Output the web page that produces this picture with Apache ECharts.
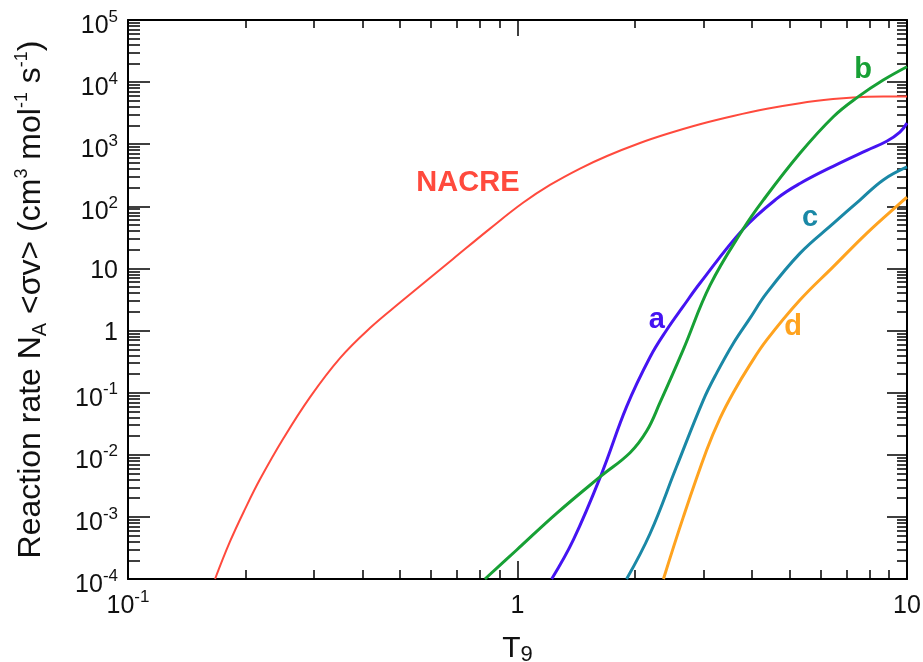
<!DOCTYPE html>
<html>
<head>
<meta charset="utf-8">
<script src="https://cdn.jsdelivr.net/npm/echarts@6/dist/echarts.min.js"></script>
<style>
html,body{margin:0;padding:0;background:#fff;}
#chart{width:923px;height:662px;}
</style>
</head>
<body>
<div id="chart"></div>
<script>
// ---- data (T9 in GK, rate in cm^3 mol^-1 s^-1) ----
var nacreT = [0.1673, 0.1828, 0.2, 0.2182, 0.2505, 0.2934, 0.3502, 0.418, 0.4994, 0.683, 0.85, 1.033, 1.212, 1.447, 1.698, 2.063, 2.415, 2.94, 3.58, 4.37, 5.31, 6.46, 7.27, 8.69, 10];
var nacreRate = [1e-4, 4.02e-4, 1.36e-3, 4.03e-3, 0.0183, 0.0849, 0.36, 1.096, 2.82, 14.2, 43.8, 114, 221, 406, 647, 1047, 1460, 2100, 2850, 3720, 4580, 5330, 5650, 5850, 5880];

var aT = [1.224, 1.392, 1.645, 1.906, 2.19, 2.415, 2.66, 2.94, 3.8, 4.64, 5.31, 6.46, 7.89, 8.87, 9.59, 10];
var aRate = [1e-4, 4.3e-4, 5.0e-3, 0.0596, 0.375, 1.02, 2.42, 5.77, 43.2, 134, 233, 441, 798, 1115, 1563, 2188];

var bT = [0.825, 0.995, 1.26, 1.628, 1.945, 2.146, 2.32, 2.666, 3.12, 3.8, 4.28, 5.31, 6.47, 7.5, 8.69, 10];
var bRate = [1e-4, 2.93e-4, 1.14e-3, 4.4e-3, 0.0108, 0.0241, 0.0683, 0.498, 5.33, 43.5, 127, 714, 2770, 5830, 10800, 17700];

var cT = [1.906, 2.19, 2.56, 3.0, 3.25, 3.58, 3.95, 4.36, 5.31, 6.47, 7.57, 8.69, 10];
var cRate = [1e-4, 5.4e-4, 6.4e-3, 0.076, 0.21, 0.62, 1.57, 4.0, 17.5, 53, 126, 266, 430];

var dT = [2.37, 2.666, 3.06, 3.31, 3.58, 3.95, 4.36, 5.31, 6.47, 7.88, 9.59, 10];
var dRate = [1e-4, 1.0e-3, 0.0119, 0.0386, 0.10, 0.28, 0.70, 3.1, 10.7, 36.8, 112, 140];

// curve labels: [T9, rate]
var labelNACRE = [0.746, 238];
var labelA = [2.28, 1.48];
var labelB = [7.71, 15700];
var labelC = [5.64, 65];
var labelD = [5.1, 1.14];

// tick values
var xMajorTicks = [0.1, 1, 10];
var xMinorTicks = [0.2, 0.3, 0.4, 0.5, 0.6, 0.7, 0.8, 0.9, 2, 3, 4, 5, 6, 7, 8, 9];
var yMajorTicks = [1e-4, 1e-3, 1e-2, 1e-1, 1, 10, 1e2, 1e3, 1e4, 1e5];
var yMinorTicks = [];
for (var e = -4; e < 5; e++) {
  for (var m = 2; m <= 9; m++) yMinorTicks.push(m * Math.pow(10, e));
}

function zip(xs, ys) { return xs.map(function (x, i) { return [x, ys[i]]; }); }

var FONT = '"Liberation Sans", Arial, Helvetica, sans-serif';
var AX = '#000';
var TXT = '#111';

function yLabel(v) {
  var ex = Math.round(Math.log10(v));
  if (ex === 0) return '{p|1}';
  if (ex === 1) return '{p|10}';
  return '{e|10}{s|' + ex + '}';
}
function xLabel(v) {
  var ex = Math.round(Math.log10(v));
  if (ex === 0) return '{e|1}';
  if (ex === 1) return '{e|10}';
  return '{e|10}{s|' + ex + '}';
}
var tickRich = {
  e: { fontSize: 25, fontFamily: FONT, color: TXT, padding: [12, 0, 0, 0] },
  s: { fontSize: 17, fontFamily: FONT, color: TXT, verticalAlign: 'top', padding: [7, 0, 0, 0] },
  p: { fontSize: 25, fontFamily: FONT, color: TXT, padding: [6, 0, 0, 0] }
};

function hiddenAxisBase(extra) {
  return Object.assign({
    type: 'log', logBase: 10,
    axisLine: { show: false },
    axisLabel: { show: false },
    splitLine: { show: false },
    minorTick: { show: false },
    minorSplitLine: { show: false }
  }, extra);
}

var xRange = { min: 0.1, max: 10 };
var yRange = { min: 1e-4, max: 1e5 };

var xAxes = [
  Object.assign({
    type: 'log', logBase: 10, position: 'bottom',
    name: '{t|T}{s|9}', nameLocation: 'middle', nameGap: 55,
    nameTextStyle: { rich: {
      t: { fontSize: 30, fontFamily: FONT, color: TXT, padding: [0, 0, 2, 0] },
      s: { fontSize: 22, fontFamily: FONT, color: TXT, verticalAlign: 'bottom' }
    } },
    axisLine: { show: true, lineStyle: { color: AX, width: 2 } },
    axisTick: { show: true, inside: true, length: 18, lineStyle: { color: AX, width: 1.5 }, customValues: xMajorTicks },
    axisLabel: { show: true, margin: 3, rich: tickRich, formatter: xLabel, customValues: xMajorTicks, hideOverlap: false, showMinLabel: true, showMaxLabel: true },
    splitLine: { show: false }, minorTick: { show: false }
  }, xRange),
  hiddenAxisBase(Object.assign({ position: 'bottom', axisTick: { show: true, inside: true, length: 9, lineStyle: { color: AX, width: 1.5 }, customValues: xMinorTicks } }, xRange)),
  hiddenAxisBase(Object.assign({ position: 'top', axisLine: { show: true, lineStyle: { color: AX, width: 2 } }, axisTick: { show: true, inside: true, length: 16, lineStyle: { color: AX, width: 1.5 }, customValues: xMajorTicks } }, xRange)),
  hiddenAxisBase(Object.assign({ position: 'top', axisTick: { show: true, inside: true, length: 8, lineStyle: { color: AX, width: 1.5 }, customValues: xMinorTicks } }, xRange))
];

var yAxes = [
  Object.assign({
    type: 'log', logBase: 10, position: 'left',
    name: '{t|Reaction rate N}{b|A}{t| <σv> (cm}{p|3}{t| mol}{p|-1}{t| s}{p|-1}{t|)}',
    nameLocation: 'middle', nameGap: 78,
    nameTextStyle: { rich: {
      t: { fontSize: 32, fontFamily: FONT, color: TXT, padding: [2, 0, 3, 0] },
      b: { fontSize: 20, fontFamily: FONT, color: TXT, verticalAlign: 'bottom' },
      p: { fontSize: 18, fontFamily: FONT, color: TXT, verticalAlign: 'top' }
    } },
    axisLine: { show: true, lineStyle: { color: AX, width: 2 } },
    axisTick: { show: true, inside: true, length: 22, lineStyle: { color: AX, width: 1.5 }, customValues: yMajorTicks },
    axisLabel: { show: true, margin: 10, rich: tickRich, formatter: yLabel, customValues: yMajorTicks, hideOverlap: false, showMinLabel: true, showMaxLabel: true },
    splitLine: { show: false }, minorTick: { show: false }
  }, yRange),
  hiddenAxisBase(Object.assign({ position: 'left', axisTick: { show: true, inside: true, length: 12, lineStyle: { color: AX, width: 1.5 }, customValues: yMinorTicks } }, yRange)),
  hiddenAxisBase(Object.assign({ position: 'right', axisLine: { show: true, lineStyle: { color: AX, width: 2 } }, axisTick: { show: true, inside: true, length: 20, lineStyle: { color: AX, width: 1.5 }, customValues: yMajorTicks } }, yRange)),
  hiddenAxisBase(Object.assign({ position: 'right', axisTick: { show: true, inside: true, length: 10, lineStyle: { color: AX, width: 1.5 }, customValues: yMinorTicks } }, yRange))
];

function curve(name, xs, ys, color, width, labelPos) {
  return {
    name: name, type: 'line', xAxisIndex: 0, yAxisIndex: 0,
    data: zip(xs, ys), showSymbol: false, symbol: 'none',
    smooth: 0.4, clip: true,
    lineStyle: { color: color, width: width },
    markPoint: {
      symbol: 'circle', symbolSize: 1, itemStyle: { color: 'rgba(0,0,0,0)' },
      label: { show: true, position: 'inside', formatter: name, color: color, fontSize: 29, fontWeight: 'bold', fontFamily: FONT },
      data: [{ coord: labelPos }]
    },
    z: 5
  };
}

var chart = echarts.init(document.getElementById('chart'), null, { renderer: 'canvas' });
chart.setOption({
  backgroundColor: '#fff',
  animation: false,
  grid: { left: 128, right: 16, top: 20, bottom: 83, containLabel: false, outerBoundsMode: 'none' },
  xAxis: xAxes,
  yAxis: yAxes,
  series: [
    curve('NACRE', nacreT, nacreRate, '#ff4a3d', 2, labelNACRE),
    curve('a', aT, aRate, '#4514f2', 3, labelA),
    curve('b', bT, bRate, '#17a035', 3, labelB),
    curve('c', cT, cRate, '#1a88a6', 3, labelC),
    curve('d', dT, dRate, '#ffa31f', 3, labelD)
  ]
});
</script>
</body>
</html>
